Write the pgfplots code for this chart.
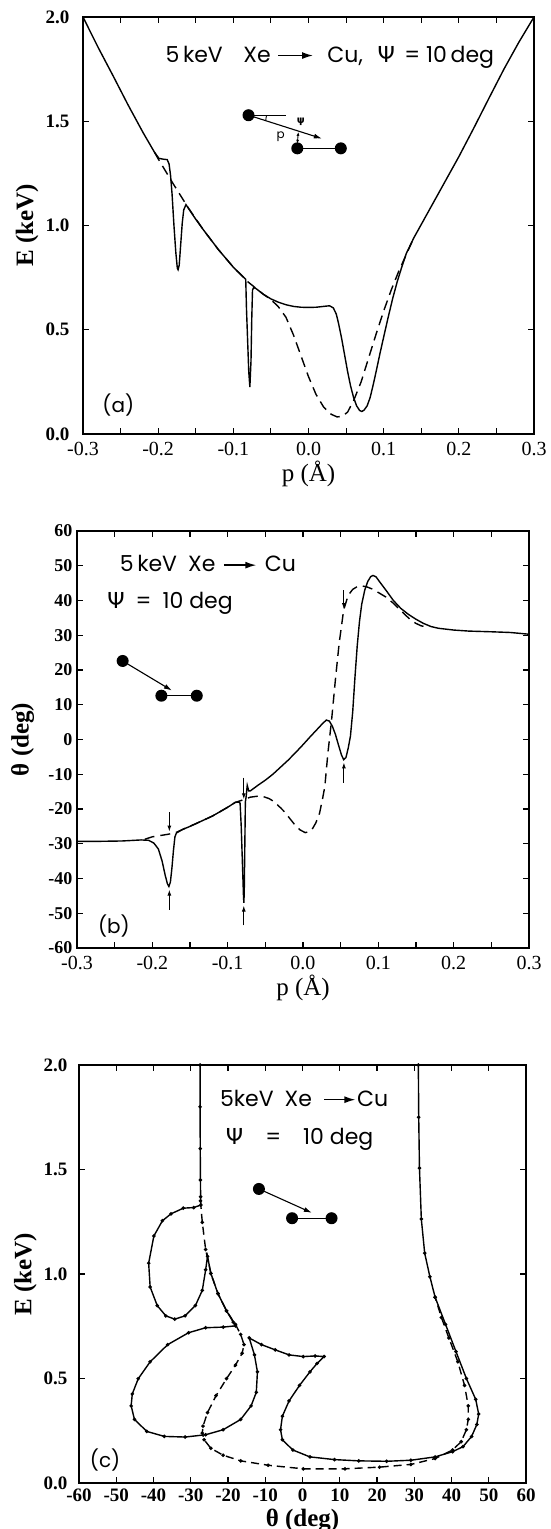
\documentclass[border=0pt]{standalone}
\usepackage{fontspec}
\setmainfont{Liberation Serif}
\newfontfamily\lab{Poppins}
\newfontfamily\grk{DejaVu Sans}
\usepackage{pgfplots}
\pgfplotsset{compat=1.18}
\usetikzlibrary{arrows.meta}

\pgfplotsset{
  panel/.style={
    scale only axis,
    tick align=inside,
    major tick length=6pt, minor tick length=6pt,
    axis line style={line width=1.2pt},
    every tick/.style={line width=1.1pt,black},
    /pgf/number format/assume math mode=true,
    xticklabel style={font=\fontsize{20}{20}\selectfont},
    yticklabel style={font=\fontsize{19}{19}\selectfont\bfseries},
    every axis x label/.style={at={(axis description cs:0.5,-0.095)},anchor=center,font=\fontsize{25}{26}\selectfont},
    every axis y label/.style={at={(axis description cs:-0.124,0.5)},rotate=90,anchor=center,font=\fontsize{25}{26}\selectfont\bfseries},
  },
  solid/.style={black,line width=1.4pt},
  dash/.style={black,line width=1.4pt,dash pattern=on 10pt off 6pt},
  onedp/.style={/pgf/number format/.cd,fixed,fixed zerofill,precision=1},
}
\tikzset{
  captext/.style={font=\lab\fontsize{22}{22}\selectfont,inner sep=0pt},
  caparrow/.style={line width=1.5pt,-{Latex[length=11pt,width=7pt]}},
}

\begin{document}
\begin{tikzpicture}
\useasboundingbox (0,0) rectangle (550pt,-1529pt);

% ---------------- (a) E versus p
\begin{axis}[panel,
  at={(83pt,-434pt)}, anchor=south west, width=451pt, height=417pt,
  xmin=-0.3, xmax=0.3, ymin=0, ymax=2,
  xtick={-0.3,-0.2,-0.1,0,0.1,0.2,0.3}, minor x tick num=1,
  ytick={0,0.5,1,1.5,2},
  xticklabel style={onedp}, yticklabel style={onedp},
  xticklabel shift=5pt, yticklabel shift=10pt,
  xlabel={p (Å)}, ylabel={E (keV)}]
\addplot[solid] coordinates {
(-0.300,2.000) (-0.280,1.855) (-0.260,1.718) (-0.240,1.578) (-0.220,1.445)
(-0.205,1.352) (-0.199,1.322) (-0.193,1.318) (-0.188,1.316) (-0.1855,1.295)
(-0.1835,1.240) (-0.1815,1.150) (-0.179,1.000) (-0.1765,0.870) (-0.1745,0.795)
(-0.1735,0.788) (-0.1720,0.810) (-0.1700,0.910) (-0.1680,1.010) (-0.1660,1.075)
(-0.1630,1.100) (-0.150,1.030) (-0.140,0.980) (-0.120,0.885) (-0.100,0.800)
(-0.0835,0.742) (-0.0825,0.600) (-0.0810,0.450) (-0.0795,0.300) (-0.0780,0.225)
(-0.0765,0.350) (-0.0755,0.550) (-0.0745,0.690) (-0.0730,0.702) (-0.070,0.698)
(-0.060,0.670) (-0.050,0.648) (-0.040,0.632) (-0.030,0.620) (-0.020,0.612)
(-0.010,0.608) (0.000,0.607) (0.010,0.608) (0.020,0.612) (0.028,0.615)
(0.033,0.605) (0.037,0.575) (0.040,0.530) (0.044,0.460) (0.048,0.380)
(0.052,0.300) (0.056,0.230) (0.060,0.175) (0.064,0.135) (0.068,0.113)
(0.071,0.108) (0.074,0.115) (0.078,0.135) (0.082,0.175) (0.086,0.235)
(0.090,0.300) (0.095,0.385) (0.100,0.465) (0.106,0.560) (0.112,0.650)
(0.118,0.730) (0.124,0.800) (0.130,0.865) (0.140,0.940) (0.160,1.070)
(0.180,1.200) (0.200,1.330) (0.220,1.468) (0.240,1.610) (0.260,1.750)
(0.280,1.880) (0.300,2.000)
};
\addplot[dash] coordinates {
(-0.205,1.352) (-0.200,1.320) (-0.180,1.200) (-0.160,1.085) (-0.140,0.980)
(-0.120,0.885) (-0.100,0.800) (-0.080,0.728) (-0.060,0.670) (-0.050,0.645)
(-0.040,0.610) (-0.030,0.560) (-0.020,0.475) (-0.010,0.375) (0.000,0.275)
(0.010,0.190) (0.020,0.130) (0.030,0.095) (0.038,0.082) (0.045,0.085)
(0.052,0.105) (0.060,0.160) (0.070,0.250) (0.080,0.365) (0.090,0.480)
(0.100,0.590) (0.110,0.690) (0.120,0.780) (0.130,0.860) (0.140,0.940)
};
% caption: 5 keV Xe -> Cu, Psi = 10 deg
\node[captext,anchor=base east] at (axis cs:-0.050,1.784) {5\,keV\enspace\, Xe};
\draw[caparrow] ([yshift=6.5pt]axis cs:-0.040,1.784) -- ([yshift=6.5pt]axis cs:0.006,1.784);
\node[captext,anchor=base west] at (axis cs:0.025,1.784) {Cu,\enspace\,{\grk Ψ}\, = 10\,deg};
\node[font=\lab\fontsize{20}{20}\selectfont] at (axis cs:-0.253,0.139) {(a)};
% sketch of the collision geometry
\fill (axis cs:-0.0798,1.529) circle[radius=6pt];
\draw[line width=1.1pt] (axis cs:-0.0798,1.529) -- (axis cs:-0.030,1.529);
\draw[line width=1.1pt,-{Latex[length=8pt,width=5pt]}] (axis cs:-0.0798,1.529) -- (axis cs:0.0178,1.417);
\draw[line width=0.9pt] (axis cs:-0.0798,1.529) ++(0:18pt) arc[start angle=0,end angle=-18,radius=18pt];
\draw[line width=0.9pt,{Latex[length=4pt,width=3pt]}-{Latex[length=4pt,width=3pt]}] (axis cs:-0.0135,1.449) -- (axis cs:-0.0149,1.392);
\node[font=\grk\bfseries\fontsize{10}{10}\selectfont] at (axis cs:-0.0103,1.497) {ψ};
\node[font=\lab\fontsize{12}{12}\selectfont] at (axis cs:-0.037,1.425) {p};
\fill (axis cs:-0.0149,1.370) circle[radius=6pt];
\fill (axis cs:0.043,1.370) circle[radius=6pt];
\draw[line width=1.1pt] (axis cs:-0.0149,1.370) -- (axis cs:0.043,1.370);
\end{axis}

% ---------------- (b) theta versus p
\begin{axis}[panel,
  at={(77pt,-948pt)}, anchor=south west, width=452pt, height=417pt,
  xmin=-0.3, xmax=0.3, ymin=-60, ymax=60,
  xtick={-0.3,-0.2,-0.1,0,0.1,0.2,0.3}, minor x tick num=1,
  ytick={-60,-50,-40,-30,-20,-10,0,10,20,30,40,50,60},
  xticklabel style={onedp},
  yticklabel style={font=\fontsize{18}{18}\selectfont\bfseries},
  xticklabel shift=5pt, yticklabel shift=1pt,
  every axis y label/.append style={at={(axis description cs:-0.12,0.5)}},
  xlabel={p (Å)}, ylabel={θ (deg)}]
\addplot[solid] coordinates {
(-0.300,-29.3) (-0.270,-29.3) (-0.240,-29.2) (-0.215,-28.9) (-0.205,-29.0)
(-0.198,-29.8) (-0.192,-31.5) (-0.187,-35.0) (-0.183,-39.0) (-0.180,-41.5)
(-0.178,-42.3) (-0.176,-41.0) (-0.174,-37.0) (-0.172,-32.0) (-0.170,-28.0)
(-0.168,-26.9) (-0.160,-25.9) (-0.150,-25.0) (-0.140,-24.0) (-0.120,-22.0)
(-0.100,-19.5) (-0.090,-18.1) (-0.085,-18.0) (-0.0835,-18.3) (-0.0820,-25.0)
(-0.0805,-35.0) (-0.0790,-45.0) (-0.0785,-47.0) (-0.0780,-44.0) (-0.0772,-30.0)
(-0.0765,-18.0) (-0.0755,-16.5) (-0.0740,-13.2) (-0.0720,-14.8) (-0.070,-14.8)
(-0.065,-14.0) (-0.060,-13.2) (-0.050,-11.7) (-0.040,-10.0) (-0.030,-8.0)
(-0.020,-6.0) (-0.010,-3.8) (0.000,-1.5) (0.010,0.9) (0.020,3.2)
(0.026,4.6) (0.031,5.6) (0.035,5.3) (0.039,3.8) (0.043,1.5)
(0.047,-1.5) (0.051,-4.4) (0.054,-5.8) (0.057,-5.2) (0.060,-2.5)
(0.063,1.0) (0.066,8.0) (0.069,18.0) (0.072,27.0) (0.075,34.0)
(0.078,39.0) (0.082,43.0) (0.086,45.5) (0.090,46.9) (0.093,47.2)
(0.097,46.8) (0.102,45.3) (0.110,43.0) (0.120,40.0) (0.130,37.7)
(0.140,36.0) (0.150,34.6) (0.160,33.4) (0.170,32.5) (0.180,32.0)
(0.200,31.5) (0.220,31.2) (0.250,31.0) (0.275,30.8) (0.300,30.3)
};
\addplot[dash] coordinates {
(-0.210,-28.7) (-0.200,-28.0) (-0.180,-27.3) (-0.170,-26.9) (-0.160,-25.9)
(-0.140,-24.0) (-0.120,-22.0) (-0.100,-19.5) (-0.090,-18.1) (-0.080,-17.4)
(-0.070,-16.6) (-0.060,-16.3) (-0.053,-16.4) (-0.045,-17.0) (-0.039,-17.8)
(-0.030,-19.6) (-0.025,-20.7) (-0.018,-22.6) (-0.011,-24.5) (-0.004,-26.0)
(0.003,-26.8) (0.008,-26.5) (0.012,-25.9) (0.017,-24.0) (0.022,-21.2)
(0.026,-17.0) (0.029,-13.5) (0.033,-4.0) (0.038,5.7) (0.043,17.2)
(0.048,27.7) (0.054,37.3) (0.060,41.5) (0.066,43.2) (0.072,44.0)
(0.078,44.2) (0.085,43.9) (0.092,43.3) (0.100,42.3) (0.110,41.0)
(0.120,39.2) (0.129,37.3) (0.137,35.6) (0.143,34.4) (0.150,33.4)
(0.157,32.7) (0.165,32.4)
};
% arrows marking the rainbow singularities
\draw[line width=1pt,-{Latex[length=6pt,width=4pt]}] (axis cs:-0.1774,-21) -- (axis cs:-0.1774,-26.5);
\draw[line width=1pt,-{Latex[length=6pt,width=4pt]}] (axis cs:-0.1774,-49) -- (axis cs:-0.1774,-43.2);
\draw[line width=1pt,-{Latex[length=6pt,width=4pt]}] (axis cs:-0.0786,-11) -- (axis cs:-0.0786,-17.2);
\draw[line width=1pt,-{Latex[length=6pt,width=4pt]}] (axis cs:-0.0786,-53.5) -- (axis cs:-0.0786,-47.8);
\draw[line width=1pt,-{Latex[length=6pt,width=4pt]}] (axis cs:0.0543,43) -- (axis cs:0.0543,37.5);
\draw[line width=1pt,-{Latex[length=6pt,width=4pt]}] (axis cs:0.0543,-12.5) -- (axis cs:0.0543,-6.6);
\node[captext,anchor=base east] at (axis cs:-0.116,48.3) {5\,keV\enspace Xe};
\draw[caparrow] ([yshift=6.5pt]axis cs:-0.105,48.3) -- ([yshift=6.5pt]axis cs:-0.062,48.3);
\node[captext,anchor=base west] at (axis cs:-0.051,48.3) {Cu};
\node[captext,anchor=base west] at (axis cs:-0.260,37.8) {{\grk Ψ}\enspace =\enspace 10 deg};
\node[font=\lab\fontsize{20}{20}\selectfont] at (axis cs:-0.251,-53.8) {(b)};
\fill (axis cs:-0.2394,22.6) circle[radius=6pt];
\draw[line width=1.1pt,-{Latex[length=8pt,width=5pt]}] (axis cs:-0.2394,22.6) -- (axis cs:-0.174,14.1);
\fill (axis cs:-0.188,12.6) circle[radius=6pt];
\fill (axis cs:-0.141,12.6) circle[radius=6pt];
\draw[line width=1.1pt] (axis cs:-0.188,12.6) -- (axis cs:-0.141,12.6);
\end{axis}

% ---------------- (c) E versus theta
\begin{axis}[panel,
  at={(79pt,-1483pt)}, anchor=south west, width=447pt, height=418pt,
  xmin=-60, xmax=60, ymin=0, ymax=2,
  xtick={-60,-50,-40,-30,-20,-10,0,10,20,30,40,50,60},
  ytick={0,0.5,1,1.5,2},
  yticklabel style={onedp},
  xticklabel style={font=\fontsize{19}{19}\selectfont\bfseries},
  xticklabel shift=2pt, yticklabel shift=8pt,
  every axis x label/.append style={font=\fontsize{25}{26}\selectfont\bfseries,at={(axis description cs:0.5,-0.09)}},
  every axis y label/.append style={at={(axis description cs:-0.12,0.5)}},
  xlabel={θ (deg)}, ylabel={E (keV)}]
\addplot[solid,mark=*,mark size=1pt] coordinates {
(-27.5,2.000) (-27.5,1.800) (-27.45,1.600) (-27.4,1.450) (-27.35,1.370)
(-27.3,1.330) (-29.2,1.318) (-32.0,1.315) (-35.3,1.288) (-37.6,1.255)
(-39.9,1.182) (-41.3,1.052) (-40.9,0.938) (-39.0,0.849) (-36.7,0.800)
(-34.3,0.784) (-31.5,0.800) (-28.75,0.849) (-26.9,0.922) (-26.0,1.020)
(-25.5,1.085) (-24.6,1.003) (-22.7,0.906) (-20.4,0.824) (-18.6,0.770)
(-18.0,0.752) (-21.3,0.746) (-26.0,0.743) (-30.6,0.719) (-36.2,0.662)
(-40.9,0.580) (-44.1,0.499) (-45.7,0.426) (-46.0,0.369) (-45.1,0.304)
(-41.8,0.247) (-37.1,0.223) (-31.5,0.220) (-26.0,0.231) (-21.3,0.255)
(-16.6,0.304) (-13.8,0.369) (-12.4,0.434) (-12.1,0.532) (-12.9,0.613)
(-14.3,0.694) (-11.0,0.662) (-7.3,0.637) (-3.6,0.613) (0.2,0.605)
(3.4,0.608) (5.8,0.605) (3.9,0.572) (2.0,0.532) (-0.8,0.467)
(-3.6,0.393) (-5.4,0.320) (-5.9,0.255) (-5.4,0.207) (-2.6,0.158)
(2.0,0.125) (8.6,0.112) (15.1,0.106) (22.6,0.104) (29.1,0.109)
(35.6,0.125) (40.3,0.150) (43.1,0.174) (45.4,0.223) (46.8,0.280)
(47.3,0.330) (46.5,0.400) (44.0,0.500) (41.2,0.629) (38.4,0.759)
(35.6,0.889) (34.2,0.987) (32.8,1.100) (31.9,1.263) (31.4,1.507)
(31.2,1.750) (31.1,2.000)
};
\addplot[dash,dash pattern=on 8pt off 5pt,mark=*,mark size=1pt,mark options={solid}] coordinates {
(-27.4,1.350) (-26.9,1.247) (-26.0,1.117) (-24.6,1.003) (-22.7,0.906)
(-20.4,0.824) (-18.0,0.759) (-16.6,0.711) (-15.7,0.662) (-16.2,0.621)
(-18.0,0.564) (-20.4,0.499) (-23.2,0.418) (-25.5,0.337) (-26.7,0.272)
(-26.9,0.239) (-26.4,0.207) (-24.6,0.166) (-21.3,0.133) (-16.6,0.106)
(-9.2,0.085) (0.2,0.068) (11.4,0.068) (20.7,0.076) (29.1,0.089)
(35.6,0.117) (40.3,0.158) (42.6,0.198) (44.0,0.255) (44.5,0.304)
(44.5,0.369) (43.5,0.467) (41.7,0.580) (39.3,0.694) (37.3,0.792)
(35.6,0.889)
};
\node[captext,anchor=base east] at (axis cs:2.6,1.803) {5keV\enspace Xe};
\draw[caparrow] ([yshift=6.5pt]axis cs:5.8,1.803) -- ([yshift=6.5pt]axis cs:14.2,1.803);
\node[captext,anchor=base west] at (axis cs:14.6,1.803) {Cu};
\node[captext,anchor=base west] at (axis cs:-20.6,1.621) {{\grk Ψ}\enspace\enspace =\enspace\enspace 10 deg};
\node[font=\lab\fontsize{20}{20}\selectfont] at (axis cs:-53,0.112) {(c)};
\fill (axis cs:-11.7,1.407) circle[radius=6pt];
\draw[line width=1.1pt,-{Latex[length=8pt,width=5pt]}] (axis cs:-11.7,1.407) -- (axis cs:2.5,1.293);
\fill (axis cs:-2.8,1.267) circle[radius=6pt];
\fill (axis cs:7.8,1.267) circle[radius=6pt];
\draw[line width=1.1pt] (axis cs:-2.8,1.267) -- (axis cs:7.8,1.267);
\end{axis}
\end{tikzpicture}
\end{document}
